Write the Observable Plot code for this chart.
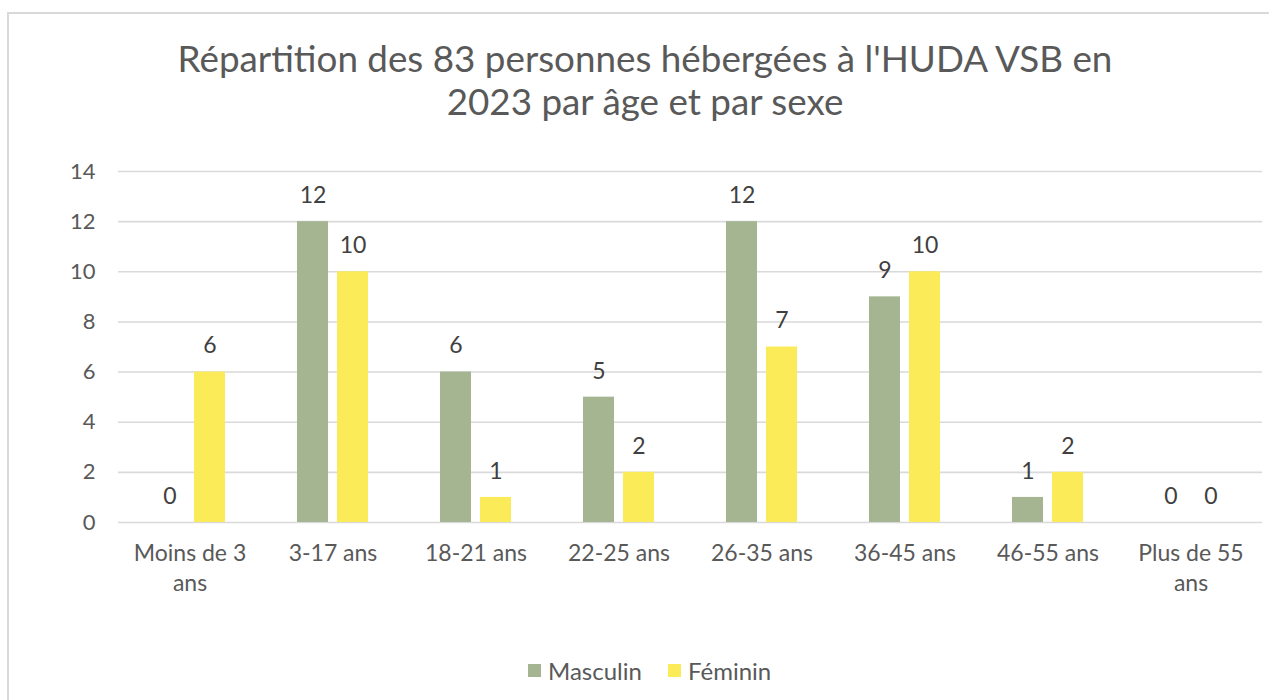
<!DOCTYPE html>
<html>
<head>
<meta charset="utf-8">
<script src="https://cdn.jsdelivr.net/npm/d3@7"></script>
<script src="https://cdn.jsdelivr.net/npm/@observablehq/plot@0.6"></script>
<style>
  html, body { margin: 0; padding: 0; background: #fff; width: 1269px; height: 700px; overflow: hidden; }
  body { position: relative; font-family: Lato, "Open Sans", sans-serif; }
  #frame { position: absolute; left: 7px; top: 12px; width: 1300px; height: 720px;
           border-top: 2.5px solid #d9d9d9; border-left: 2.5px solid #d9d9d9; box-sizing: border-box; }
  #title { position: absolute; left: 0; top: 37px; width: 1290px; text-align: center;
           font-size: 36.8px; line-height: 43px; color: #595959; }
  #chart { position: absolute; left: 0; top: 140px; }
  #legend { position: absolute; left: 0; top: 655px; width: 1269px; height: 30px; }
  .item { position: absolute; top: 0; height: 30px; display: flex; align-items: center;
          font-size: 24px; color: #595959; }
  .sw { width: 13px; height: 13px; margin-right: 7px; }
</style>
</head>
<body>
<div id="frame"></div>
<div id="title">Répartition des 83 personnes hébergées à l'HUDA VSB en<br>2023 par âge et par sexe</div>
<div id="chart"></div>
<div id="legend"></div>
<script>
// ---- data ----
const categories = ["Moins de 3 ans", "3-17 ans", "18-21 ans", "22-25 ans", "26-35 ans", "36-45 ans", "46-55 ans", "Plus de 55 ans"];
const tickLabels = ["Moins de 3\nans", "3-17 ans", "18-21 ans", "22-25 ans", "26-35 ans", "36-45 ans", "46-55 ans", "Plus de 55\nans"];
const series = ["Masculin", "Féminin"];
const masculin = [0, 12, 6, 5, 12, 9, 1, 0];
const feminin = [6, 10, 1, 2, 7, 10, 2, 0];
const yTicks = [0, 2, 4, 6, 8, 10, 12, 14];
const colors = ["#a5b592", "#fbeb59"];

const rows = [];
categories.forEach((c, i) => {
  rows.push({category: c, sex: series[0], value: masculin[i]});
  rows.push({category: c, sex: series[1], value: feminin[i]});
});
const labelOf = new Map(categories.map((c, i) => [c, tickLabels[i]]));

const chart = Plot.plot({
  width: 1269,
  height: 470,
  marginLeft: 115,
  marginRight: 5,
  marginTop: 31,
  marginBottom: 88,
  style: {fontFamily: "Lato, 'Open Sans', sans-serif", background: "transparent", overflow: "visible"},
  fx: {domain: categories, padding: 0, label: null},
  x: {domain: series, paddingInner: 0.22, paddingOuter: 0.86, axis: null},
  y: {domain: [0, 14], label: null},
  color: {domain: series, range: colors},
  marks: [
    Plot.gridY(yTicks, {stroke: "#d9d9d9", strokeOpacity: 1, strokeWidth: 1.6}),
    Plot.axisY(yTicks, {tickSize: 0, tickPadding: 23, fontSize: 22, fill: "#595959", label: null}),
    Plot.axisFx({anchor: "bottom", tickSize: 0, tickPadding: 17, fontSize: 23, lineHeight: 1.3, fill: "#595959",
                 tickFormat: d => labelOf.get(d), label: null}),
    Plot.barY(rows, {fx: "category", x: "sex", y: "value", fill: "sex"}),
    Plot.text(rows, {fx: "category", x: "sex", y: "value", text: d => String(d.value),
                     dy: -26, fontSize: 23, fill: "#404040"})
  ]
});
document.getElementById("chart").appendChild(chart);

// legend
const legend = document.getElementById("legend");
const lefts = [528, 668];
series.forEach((s, i) => {
  const item = document.createElement("div");
  item.className = "item";
  item.style.left = lefts[i] + "px";
  const sw = document.createElement("div");
  sw.className = "sw";
  sw.style.background = colors[i];
  item.appendChild(sw);
  item.appendChild(document.createTextNode(s));
  legend.appendChild(item);
});
</script>
</body>
</html>
